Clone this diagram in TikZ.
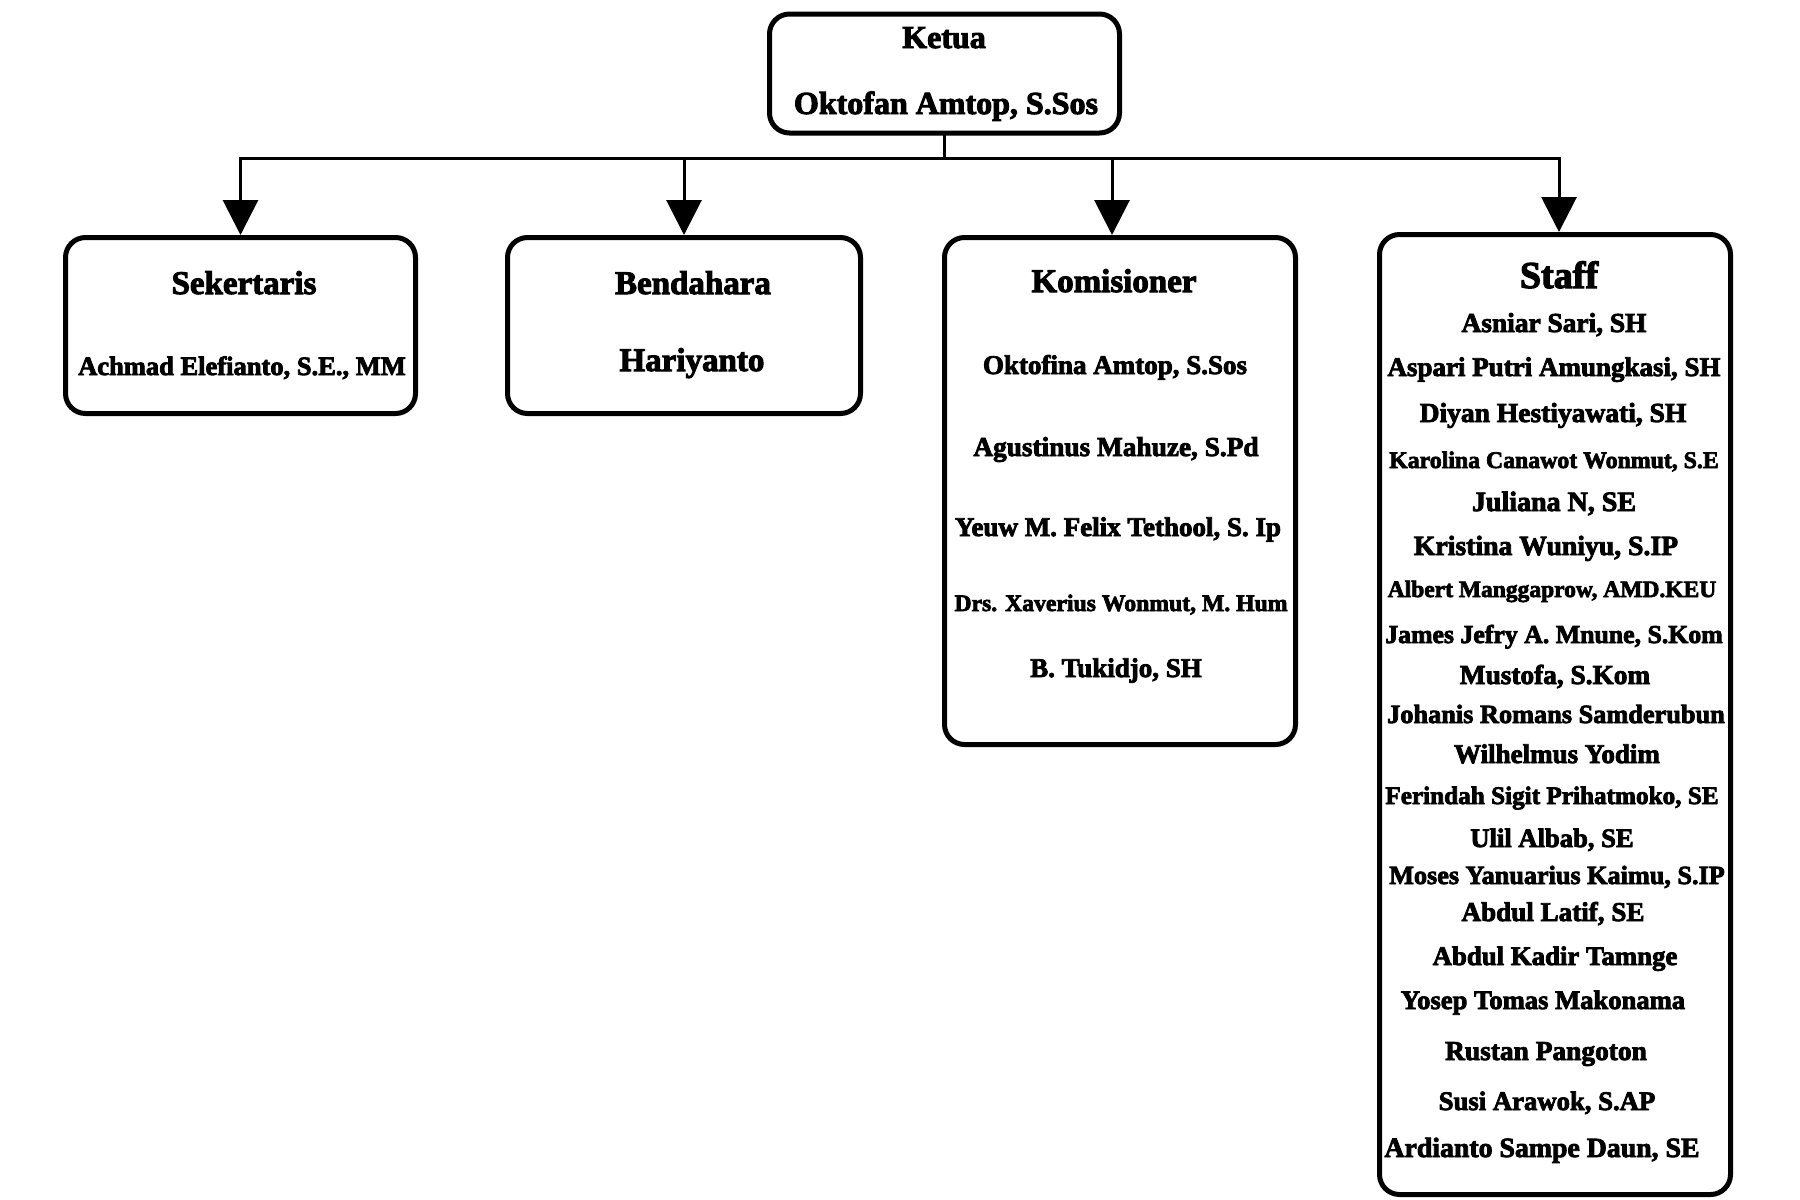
\documentclass[tikz,border=0pt]{standalone}
\usepackage{fontspec}
\setmainfont{Liberation Serif}[BoldFeatures={FakeBold=3}]
\usetikzlibrary{arrows.meta}
\newcommand\fsz[1]{\fontsize{#1}{#1}\selectfont\bfseries}
\tikzset{
  orgbox/.style={draw, line width=5pt, rounded corners=20pt, inner sep=0pt, anchor=center},
  txt/.style={anchor=base, inner sep=0pt, font=\fsz{#1}},
  txt/.default=27,
  conn/.style={line width=3pt, line cap=rect},
  arr/.style={line width=3pt, -{Triangle[width=35pt,length=35pt]}}
}
\begin{document}
\begin{tikzpicture}[x=1pt, y=-1pt]
\useasboundingbox (0,0) rectangle (1800,1200);

% boxes
\node[orgbox, minimum width=350pt, minimum height=119pt] (ketua) at (944.5,73.5) {};
\node[orgbox, minimum width=350pt, minimum height=176pt] (sek) at (240.5,325.5) {};
\node[orgbox, minimum width=353pt, minimum height=176pt] (ben) at (684,325.5) {};
\node[orgbox, minimum width=351pt, minimum height=507pt] (kom) at (1120,491) {};
\node[orgbox, minimum width=351pt, minimum height=960pt] (staff) at (1555,714.5) {};

% connectors
\coordinate (bus) at (943,158);
\draw[conn] (ketua.south) -- (ketua.south |- bus);
\draw[conn] (sek.north |- bus) -- ([xshift=4pt]staff.north |- bus);
\draw[arr] (sek.north |- bus) -- (sek.north);
\draw[arr] (ben.north |- bus) -- (ben.north);
\draw[arr] ([xshift=-8pt]kom.north |- bus) -- ([xshift=-8pt]kom.north);
\draw[arr] ([xshift=4pt]staff.north |- bus) -- ([xshift=4pt]staff.north);

% Ketua
\node[txt=32] (t-ketua) at (944,48) {Ketua};
\node[txt=32] (t-ketua-n) at (946,114) {Oktofan Amtop, S.Sos};

% Sekertaris
\node[txt=33] (t-sek) at (244,294) {Sekertaris};
\node[txt=26.5] (t-sek-n) at (242,375) {Achmad Elefianto, S.E., MM};

% Bendahara
\node[txt=33] (t-ben) at (693,294) {Bendahara};
\node[txt=33] (t-ben-n) at (692,371) {Hariyanto};

% Komisioner
\node[txt=33] (t-kom) at (1114,292) {Komisioner};
\node[txt=27] (k1) at (1115,374) {Oktofina Amtop, S.Sos};
\node[txt=27.3] (k2) at (1116,456) {Agustinus Mahuze, S.Pd};
\node[txt=27] (k3) at (1118,536) {Yeuw M. Felix Tethool, S. Ip};
\node[txt=23.7] (k4) at (1121,611) {Drs. Xaverius Wonmut, M. Hum};
\node[txt=27] (k5) at (1116,677) {B. Tukidjo, SH};

% Staff
\node[txt=38] (t-staff) at (1559,288) {Staff};
\node[txt=27.4] (s1) at (1554,332) {Asniar Sari, SH};
\node[txt=27] (s2) at (1554,376) {Aspari Putri Amungkasi, SH};
\node[txt=27.5] (s3) at (1553,422) {Diyan Hestiyawati, SH};
\node[txt=23.8] (s4) at (1554,468) {Karolina Canawot Wonmut, S.E};
\node[txt=28] (s5) at (1554,511) {Juliana N, SE};
\node[txt=27.7] (s6) at (1546,555) {Kristina Wuniyu, S.IP};
\node[txt=23.5] (s7) at (1552,597) {Albert Manggaprow, AMD.KEU};
\node[txt=25.8] (s8) at (1554,643) {James Jefry A. Mnune, S.Kom};
\node[txt=27.3] (s9) at (1555,684) {Mustofa, S.Kom};
\node[txt=26.3] (s10) at (1556,723) {Johanis Romans Samderubun};
\node[txt=27] (s11) at (1557,763) {Wilhelmus Yodim};
\node[txt=25.2] (s12) at (1552,804) {Ferindah Sigit Prihatmoko, SE};
\node[txt=26.6] (s13) at (1552,847) {Ulil Albab, SE};
\node[txt=26.2] (s14) at (1557,884) {Moses Yanuarius Kaimu, S.IP};
\node[txt=27.1] (s15) at (1553,921) {Abdul Latif, SE};
\node[txt=26.8] (s16) at (1555,965) {Abdul Kadir Tamnge};
\node[txt=26.6] (s17) at (1543,1009) {Yosep Tomas Makonama};
\node[txt=27.4] (s18) at (1546,1060) {Rustan Pangoton};
\node[txt=26.7] (s19) at (1547,1110) {Susi Arawok, S.AP};
\node[txt=27.8] (s20) at (1542,1157) {Ardianto Sampe Daun, SE};
\end{tikzpicture}
\end{document}
